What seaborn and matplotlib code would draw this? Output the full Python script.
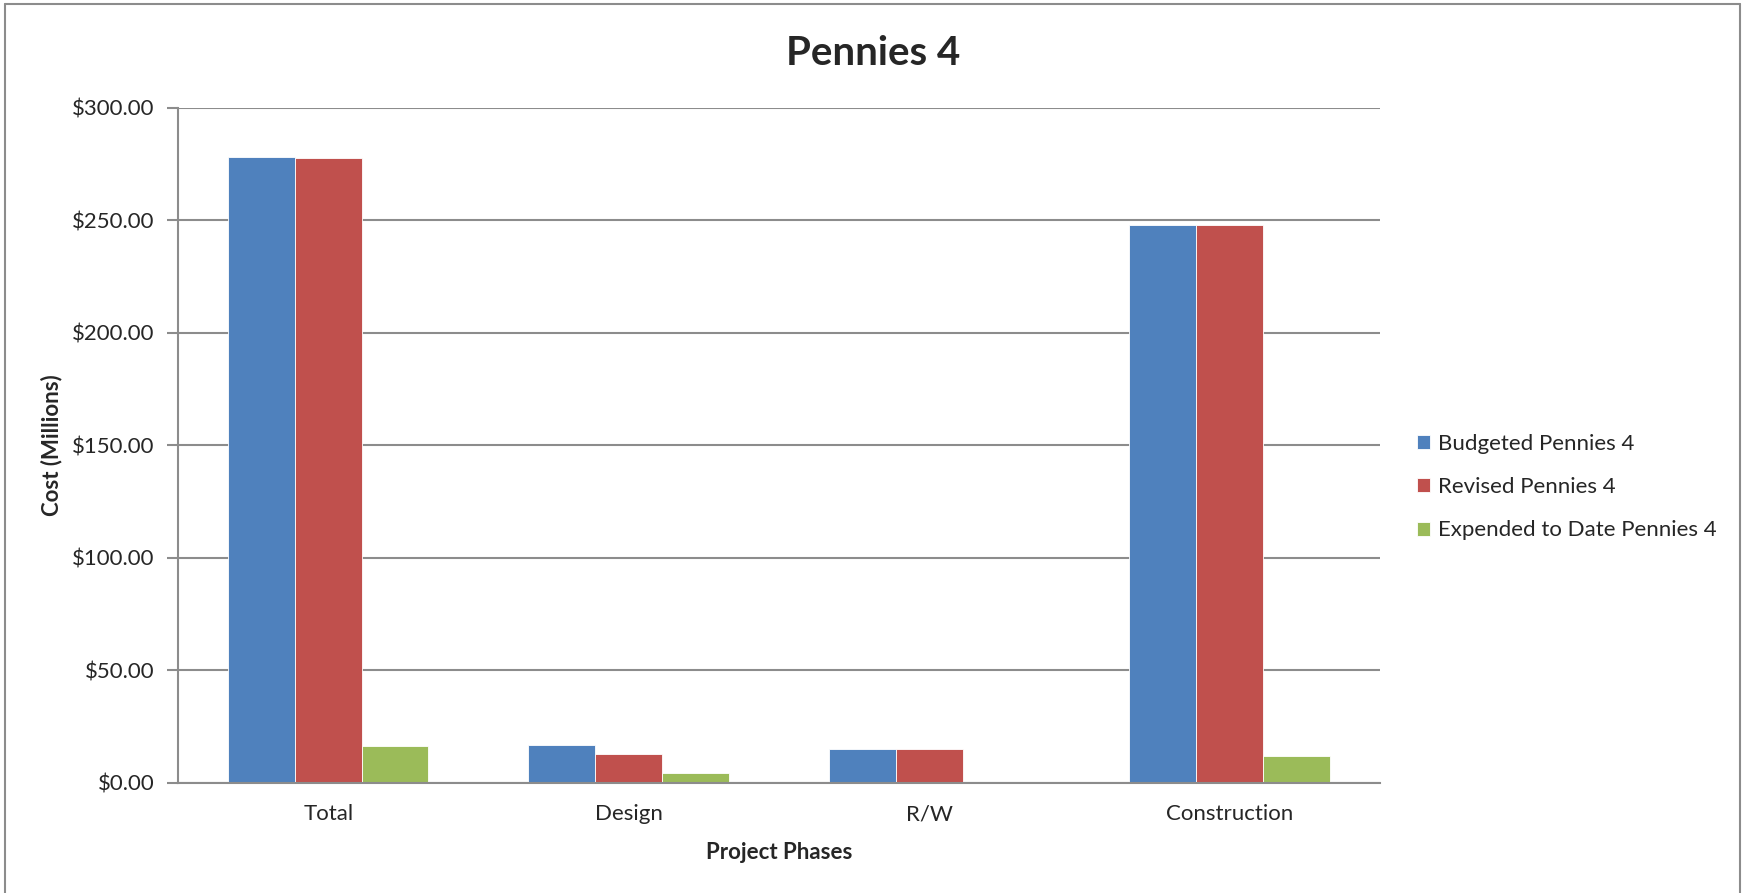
import pandas as pd
import matplotlib.pyplot as plt
import seaborn as sns
from matplotlib.ticker import FuncFormatter
from matplotlib.lines import Line2D

phases = ['Total', 'Design', 'R/W', 'Construction']
series = ['Budgeted Pennies 4', 'Revised Pennies 4', 'Expended to Date Pennies 4']
budgeted = [278.0, 16.8, 15.0, 247.8]
revised = [277.8, 12.8, 14.9, 247.8]
expended = [16.2, 4.3, 0.0, 11.9]
colors = ['#4F81BD', '#C0504D', '#9BBB59']

df = pd.DataFrame({
    'Phase': phases * 3,
    'Series': [series[0]] * 4 + [series[1]] * 4 + [series[2]] * 4,
    'Cost': budgeted + revised + expended,
})

sns.set_style('white')
plt.rcParams['font.family'] = ['Lato', 'DejaVu Sans']

fig = plt.figure(figsize=(17.43, 8.93), dpi=100)
ax = fig.add_axes([0.1021, 0.1235, 0.6896, 0.7559])

sns.barplot(data=df, x='Phase', y='Cost', hue='Series', order=phases,
            hue_order=series, palette=colors, width=0.667, saturation=1,
            edgecolor='white', linewidth=0.6, ax=ax)

ax.set_ylim(0, 300)
ax.set_yticks(range(0, 301, 50))
ax.yaxis.set_major_formatter(FuncFormatter(lambda v, p: f'${v:,.2f}'))
ax.grid(axis='y', color='#8c8c8c', linewidth=1.5)
ax.set_axisbelow(True)
for s in ['top', 'right']:
    ax.spines[s].set_visible(False)
ax.spines['left'].set_color('#8c8c8c')
ax.spines['left'].set_linewidth(1.5)
ax.spines['bottom'].set_color('#8c8c8c')
ax.spines['bottom'].set_linewidth(1.5)
ax.tick_params(axis='y', left=True, length=8, width=1.5, color='#8c8c8c',
               labelsize=16, pad=9)
ax.tick_params(axis='x', bottom=False, labelsize=16, pad=12)

ax.set_xlabel('Project Phases', fontsize=16, fontweight='bold', labelpad=13)
ax.set_ylabel('Cost (Millions)', fontsize=16, fontweight='bold', labelpad=7)
fig.text(0.5008, 0.940, 'Pennies 4', fontsize=29, fontweight='bold',
         ha='center', va='center')

ax.legend(title=None, frameon=False, loc='center left',
          bbox_to_anchor=(1.014, 0.438), fontsize=16, handlelength=0.6,
          handleheight=0.6, handletextpad=0.35, labelspacing=1.05)

# chart area border
for xs, ys in [([0.003, 0.003], [0, 0.995]), ([0.003, 0.998], [0.995, 0.995]),
               ([0.998, 0.998], [0.995, 0])]:
    fig.add_artist(Line2D(xs, ys, color='#8c8c8c', linewidth=1.5))

fig.savefig('out.png', dpi=100)
